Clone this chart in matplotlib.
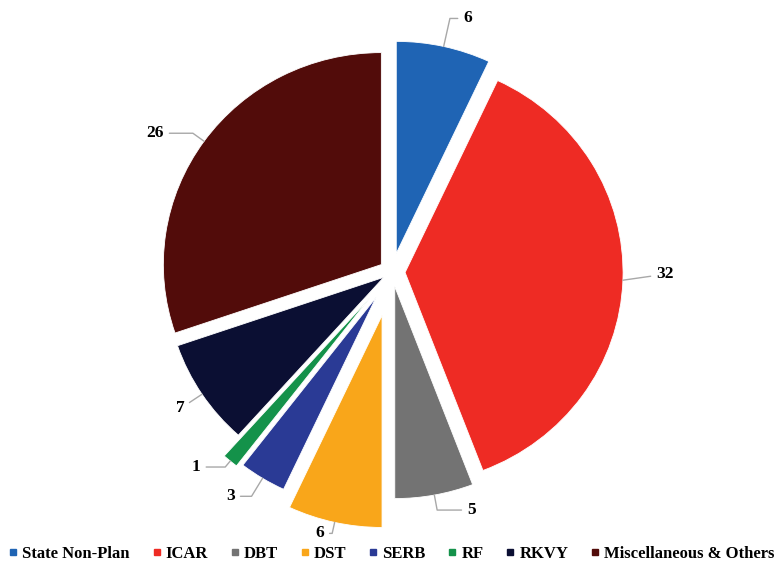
import matplotlib
matplotlib.use("Agg")
import matplotlib.pyplot as plt
import numpy as np
from matplotlib.lines import Line2D

categories = ["State Non-Plan", "ICAR", "DBT", "DST", "SERB", "RF", "RKVY",
              "Miscellaneous & Others"]
values = [6, 32, 5, 6, 3, 1, 7, 26]
colors = ["#1F64B4", "#EE2B24", "#737373", "#F9A61A", "#2A3A95", "#14924A",
          "#0B0F33", "#520C0A"]
explode = [0.09, 0.06, 0.07, 0.21, 0.14, 0.16, 0.045, 0.06]
# label text offsets (pixels) from the arc mid-point
label_offsets = [(24, 28), (42, 6), (37, -15), (-15, -11), (-32, -18),
                 (-34, -6), (-22, -14), (-49, 8)]

plt.rcParams['font.family'] = ['Liberation Serif', 'DejaVu Serif']

fig = plt.figure(figsize=(7.83, 5.74), dpi=100)
ax = fig.add_axes([0, 0, 1, 1])

wedges, _ = ax.pie(values, colors=colors, explode=explode, startangle=90,
                   counterclock=False, radius=1.0,
                   wedgeprops=dict(edgecolor="white", linewidth=0.6))
ax.set_aspect('auto')
ax.set_xlim(-392 / 218, (783 - 392) / 218)
ax.set_ylim(-302 / 212, 272 / 212)
ax.axis('off')

for w, v, off in zip(wedges, values, label_offsets):
    ang = np.deg2rad((w.theta1 + w.theta2) / 2)
    cx, cy = w.center
    px = cx + w.r * np.cos(ang)
    py = cy + w.r * np.sin(ang)
    angdeg = np.rad2deg(ang)
    if abs(np.sin(ang)) < 0.3:
        cs = "arc3,rad=0"
    else:
        cs = f"angle,angleA=0,angleB={angdeg:.1f},rad=0"
    ax.annotate(str(v), xy=(px, py), xytext=off, textcoords='offset pixels',
                ha='center', va='center', fontsize=12.5, fontweight='bold',
                color='black',
                arrowprops=dict(arrowstyle='-', color='#A8A8A8', lw=1.0,
                                shrinkA=2, shrinkB=0, connectionstyle=cs))

handles = [Line2D([0], [0], marker='s', linestyle='none', markersize=4.5,
                  markerfacecolor=c, markeredgecolor=c) for c in colors]
leg = fig.legend(handles, categories, loc='lower center', ncol=8,
                 bbox_to_anchor=(0.5, -0.005), frameon=False,
                 prop=dict(family='Liberation Serif', weight='bold', size=12),
                 handlelength=0.6, handletextpad=0.25, columnspacing=1.3)

fig.savefig("out.png", dpi=100)
